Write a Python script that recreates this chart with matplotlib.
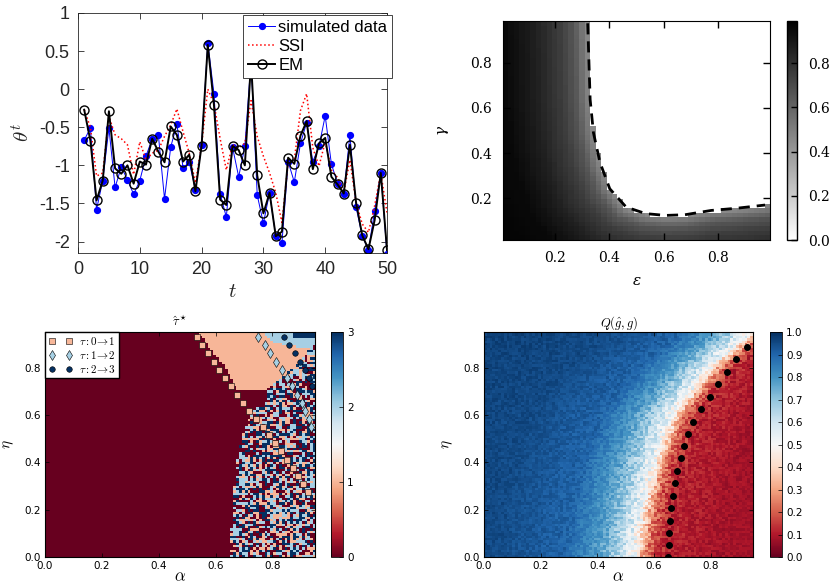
import numpy as np
import matplotlib.pyplot as plt

# ---- panel (a): estimated fields theta^t
t = np.arange(1, 51)
theta_sim = [-0.67, -0.51, -1.58, -1.2, -0.51, -1.29, -1.02, -1.19, -1.38, -1.2,
             -0.88, -0.65, -0.6, -1.44, -0.76, -0.46, -1.03, -0.96, -1.32, -0.73,
             0.61, -0.06, -1.37, -1.68, -0.76, -1.15, -0.75, 0.37, -1.39, -1.76,
             -1.36, -1.93, -2.02, -0.95, -1.22, -0.71, -0.44, -0.95, -0.75, -0.35,
             -0.98, -1.24, -1.37, -0.6, -1.55, -1.93, -2.11, -1.6, -1.1, -2.16]
theta_ssi = [-0.27, -0.5, -1.14, -1.1, -0.36, -0.6, -0.65, -0.73, -1.12, -0.69,
             -0.93, -0.84, -0.8, -0.62, -0.47, -0.26, -0.56, -0.84, -1.23, -0.73,
             0.0, -0.19, -0.65, -1.06, -0.73, -0.77, -0.71, -0.15, -0.62, -0.88,
             -1.1, -1.36, -1.75, -0.97, -0.93, -0.28, -0.06, -0.77, -1.01, -0.69,
             -1.06, -1.16, -1.36, -0.93, -1.49, -1.77, -1.88, -1.53, -1.1, -1.62]
theta_em = [-0.27, -0.675, -1.46, -1.2, -0.29, -1.04, -1.11, -1.0, -1.24, -0.95,
            -0.99, -0.65, -0.82, -0.96, -0.49, -0.6, -0.95, -0.86, -1.34, -0.74,
            0.58, -0.21, -1.45, -1.52, -0.745, -0.8, -1.0, 0.36, -1.13, -1.63,
            -1.36, -1.93, -1.87, -0.9, -0.98, -0.61, -0.42, -1.05, -0.71, -0.64,
            -1.15, -1.25, -1.37, -0.73, -1.49, -1.92, -2.1, -1.72, -1.1, -2.11]

# ---- panel (b): phase boundary in the (epsilon, gamma) plane
eps_bound = [0.321, 0.330, 0.342, 0.366, 0.402, 0.462, 0.534, 0.606, 0.678, 0.774, 0.87, 0.972]
gam_bound = [0.975, 0.637, 0.491, 0.359, 0.242, 0.161, 0.132, 0.124, 0.127, 0.146, 0.156, 0.17]
# grey level against distance from the boundary
dist_pts = [0.0, 0.05, 0.1, 0.2, 0.3, 0.4]
grey_pts = [0.45, 0.65, 0.75, 0.87, 0.95, 0.97]

# ---- panel (c): transition points tau
sq_alpha = [0.536, 0.552, 0.574, 0.593, 0.611, 0.632, 0.653, 0.676, 0.698, 0.719,
            0.744, 0.766, 0.787, 0.809, 0.830, 0.852, 0.871, 0.891, 0.909, 0.927]
sq_eta = [0.929, 0.894, 0.861, 0.824, 0.790, 0.755, 0.721, 0.686, 0.652, 0.618,
          0.583, 0.549, 0.514, 0.480, 0.446, 0.411, 0.377, 0.342, 0.308, 0.275]
di_alpha = [0.75, 0.773, 0.793, 0.813, 0.833, 0.850, 0.869, 0.887, 0.903, 0.916, 0.930, 0.937]
di_eta = sq_eta[:12]
ci_alpha = [0.840, 0.860, 0.880, 0.897, 0.914, 0.930, 0.939]
ci_eta = sq_eta[:7]
# region outlines of the tau map
peach_eta = [0.70, 0.75, 0.80, 0.85, 0.90, 0.95]
peach_left = [0.67, 0.655, 0.63, 0.598, 0.565, 0.535]
mix_eta = [0.0, 0.24, 0.42, 0.52, 0.60, 0.63, 0.65]
mix_left = [0.65, 0.66, 0.676, 0.695, 0.72, 0.75, 0.78]
mix_alpha = [0.65, 0.72, 0.78, 0.84, 0.90, 0.95]
mix_top = [0.60, 0.66, 0.70, 0.76, 0.83, 0.90]
lb_eta = [0.875, 0.90, 0.95]
lb_left = [0.93, 0.80, 0.755]

# ---- panel (d): overlap Q and its transition line
q_alpha = [0.649, 0.652, 0.652, 0.656, 0.661, 0.667, 0.674, 0.683, 0.694,
           0.707, 0.721, 0.737, 0.765, 0.799, 0.828, 0.858, 0.891, 0.929]
q_eta = [0.0, 0.049, 0.103, 0.154, 0.206, 0.259, 0.311, 0.363, 0.417,
         0.468, 0.52, 0.572, 0.625, 0.677, 0.729, 0.78, 0.834, 0.886]
half_eta = [0.0, 0.2, 0.4, 0.6, 0.8, 0.95]
half_alpha = [0.53, 0.56, 0.6, 0.665, 0.8, 0.95]
qd_pts = [-1.0, -0.5, -0.25, -0.13, -0.06, 0.0, 0.03, 0.06, 0.1, 0.3]
qv_pts = [0.97, 0.95, 0.9, 0.78, 0.65, 0.5, 0.3, 0.18, 0.12, 0.08]
# spread of the cell values against distance from the Q = 0.5 line
spread_d = [0.0, 0.05, 0.15, 0.4]
spread_v = [0.22, 0.16, 0.08, 0.04]


def cell_hash(n, salt):
    i, j = np.meshgrid(np.arange(n, dtype=np.uint64), np.arange(n, dtype=np.uint64), indexing="ij")
    m = np.uint64(0xFFFFFFFF)
    x = (i * np.uint64(374761393) + j * np.uint64(668265263) + np.uint64(salt)) & m
    x = ((x ^ (x >> np.uint64(13))) * np.uint64(1274126177)) & m
    x = x ^ (x >> np.uint64(16))
    return (x & np.uint64(0xFFFF)).astype(float) / 65535.0


fig = plt.figure(figsize=(8.38, 5.84), dpi=100)

# ---------------- top left
ax1 = fig.add_axes([0.0931, 0.5668, 0.3687, 0.411])
ink = "#262626"
ax1.plot(t, theta_sim, "-", color="blue", lw=0.7, marker="o", ms=4.2,
         mfc="blue", mec="blue", label="simulated data", zorder=2)
ax1.plot(t, theta_ssi, ":", color="red", lw=1.1, label="SSI", zorder=3)
ax1.plot(t, theta_em, "-", color="black", lw=1.4, marker="o", ms=6.5,
         mfc="none", mec="black", mew=1.0, label="EM", zorder=4)
ax1.set_xlim(0, 50)
ax1.set_ylim(-2.15, 1)
ax1.set_xticks([0, 10, 20, 30, 40, 50])
ax1.set_yticks([-2, -1.5, -1, -0.5, 0, 0.5, 1])
ax1.set_yticklabels(["-2", "-1.5", "-1", "-0.5", "0", "0.5", "1"])
ax1.tick_params(direction="in", top=True, right=True, length=4, width=0.6,
                labelsize=13, colors=ink, pad=6)
for tl in ax1.get_xticklabels() + ax1.get_yticklabels():
    tl.set_family("Liberation Sans")
for s in ax1.spines.values():
    s.set_color(ink)
    s.set_linewidth(0.6)
ax1.set_xlabel("$t$", fontsize=15, math_fontfamily="cm", color=ink, labelpad=2)
ax1.set_ylabel(r"$\theta^t$", fontsize=15, math_fontfamily="cm", color=ink, labelpad=4)
leg = ax1.legend(loc="upper right", bbox_to_anchor=(1.017, 0.992), fancybox=False,
                 framealpha=1, edgecolor=ink, borderaxespad=0, handlelength=1.6,
                 handletextpad=0.2, borderpad=0.3, labelspacing=0.25,
                 prop={"family": "Liberation Sans", "size": 12})
leg.get_frame().set_linewidth(0.6)

# ---------------- top right
ax2 = fig.add_axes([0.6002, 0.589, 0.3186, 0.375])
eps_c = np.linspace(0.02, 0.98, 49)
gam_c = np.linspace(0.03, 0.97, 48)
E, G = np.meshgrid(eps_c, gam_c)
curve_e = np.interp(np.linspace(0, 11, 600), np.arange(12), eps_bound)
curve_g = np.interp(np.linspace(0, 11, 600), np.arange(12), gam_bound)
dist = np.min(np.hypot(E[..., None] - curve_e, G[..., None] - curve_g), axis=-1)
grey = np.interp(dist, dist_pts, grey_pts)
inside = (E > eps_bound[0]) & (G > np.interp(E, eps_bound, gam_bound))
grey[inside] = 0.0
im2 = ax2.imshow(grey, origin="lower", cmap="gray_r", vmin=0, vmax=0.99,
                 extent=(0.01, 0.99, 0.015, 0.985), aspect="auto", interpolation="nearest")
ax2.plot(eps_bound, gam_bound, "--", color="black", lw=2, dashes=(4, 2.5))
ax2.set_xlim(0.01, 0.99)
ax2.set_ylim(0.015, 0.985)
ax2.set_xticks([0.2, 0.4, 0.6, 0.8])
ax2.set_yticks([0.2, 0.4, 0.6, 0.8])
ax2.tick_params(direction="in", top=True, right=True, length=5, width=1,
                labelsize=10, pad=8)
for tl in ax2.get_xticklabels() + ax2.get_yticklabels():
    tl.set_family("DejaVu Serif")
ax2.set_xlabel(r"$\varepsilon$", fontsize=11, math_fontfamily="dejavuserif", labelpad=6)
ax2.set_ylabel(r"$\gamma$", fontsize=11, math_fontfamily="dejavuserif", labelpad=14)
cax2 = fig.add_axes([0.9391, 0.589, 0.0119, 0.375])
cb2 = fig.colorbar(im2, cax=cax2, ticks=[0.0, 0.2, 0.4, 0.6, 0.8])
cb2.ax.tick_params(direction="in", length=4, width=1, labelsize=10, pad=8)
for tl in cb2.ax.get_yticklabels():
    tl.set_family("DejaVu Serif")
cb2.outline.set_linewidth(1)

# ---------------- bottom left
n = 95
cen = (np.arange(n) + 0.5) * 0.01
A, H = np.meshgrid(cen, cen)
tau = np.zeros((n, n))
peach = (H >= 0.705) & (A >= np.interp(H, peach_eta, peach_left))
tau[peach] = 1
lblue = (H >= lb_eta[0]) & (A >= np.interp(H, lb_eta, lb_left))
tau[lblue] = 2
tau[(A >= 0.87) & (H >= 0.92)] = 3
mixed = (A >= np.interp(H, mix_eta, mix_left)) & (H <= np.interp(A, mix_alpha, mix_top))
u = cell_hash(n, 11)
mixed_val = np.select([u < 0.3, u < 0.5, u < 0.75], [0, 1, 2], 3)
tau[mixed] = mixed_val[mixed]

rdbu = plt.get_cmap("RdBu")
ax3 = fig.add_axes([0.0537, 0.0462, 0.3222, 0.3853])
im3 = ax3.imshow(tau, origin="lower", cmap=rdbu, vmin=0, vmax=3,
                 extent=(0, 0.95, 0, 0.95), aspect="auto", interpolation="nearest")
ax3.plot(sq_alpha, sq_eta, "s", ms=4, mfc=rdbu(1 / 3), mec="black", mew=0.4,
         label=r"$\tau: 0\!\rightarrow\!1$")
ax3.plot(di_alpha, di_eta, "d", ms=5, mfc=rdbu(2 / 3), mec="black", mew=0.4,
         label=r"$\tau: 1\!\rightarrow\!2$")
ax3.plot(ci_alpha, ci_eta, "o", ms=4, mfc=rdbu(1.0), mec="black", mew=0.4,
         label=r"$\tau: 2\!\rightarrow\!3$")
ax3.legend(loc="upper left", numpoints=2, borderaxespad=0, fancybox=False,
           framealpha=1, edgecolor="black", handlelength=2.2, handletextpad=0.6,
           borderpad=0.3, labelspacing=0.15,
           prop={"size": 8, "math_fontfamily": "cm"})
ax3.set_title(r"$\hat{\tau}^\star$", fontsize=9, math_fontfamily="cm", pad=4)

# ---------------- bottom right
ax4 = fig.add_axes([0.5776, 0.0462, 0.321, 0.3853])
d = A - np.interp(H, half_eta, half_alpha)
q = np.interp(d, qd_pts, qv_pts)
q = np.clip(q + (cell_hash(n, 5) - 0.5) * np.interp(np.abs(d), spread_d, spread_v), 0, 1)
im4 = ax4.imshow(q, origin="lower", cmap=rdbu, vmin=0, vmax=1,
                 extent=(0, 0.95, 0, 0.95), aspect="auto", interpolation="nearest")
ax4.plot(q_alpha, q_eta, "o", ms=4, color="black")
ax4.set_title(r"$Q(\hat{g},g)$", fontsize=9, math_fontfamily="cm", pad=4)

for ax, im, cpos, ticks in [(ax3, im3, [0.395, 0.0462, 0.0143, 0.3853], [0, 1, 2, 3]),
                            (ax4, im4, [0.9189, 0.0462, 0.0143, 0.3853], np.arange(0, 1.01, 0.1))]:
    ax.set_xlim(0, 0.95)
    ax.set_ylim(0, 0.95)
    ax.set_xticks([0.0, 0.2, 0.4, 0.6, 0.8])
    ax.set_yticks([0.0, 0.2, 0.4, 0.6, 0.8])
    ax.tick_params(direction="in", top=True, right=True, length=3, width=0.5,
                   labelsize=7.5, pad=3)
    ax.set_xlabel(r"$\alpha$", fontsize=12, math_fontfamily="cm", labelpad=-3)
    ax.set_ylabel(r"$\eta$", fontsize=11, math_fontfamily="cm", labelpad=6)
    cax = fig.add_axes(cpos)
    cb = fig.colorbar(im, cax=cax, ticks=ticks)
    if len(ticks) > 4:
        cb.ax.set_yticklabels([f"{v:.1f}" for v in ticks])
    cb.ax.tick_params(direction="in", length=3, width=0.5, labelsize=7.5, pad=3)
    cb.outline.set_linewidth(0.6)

fig.savefig("out.png", dpi=100)
